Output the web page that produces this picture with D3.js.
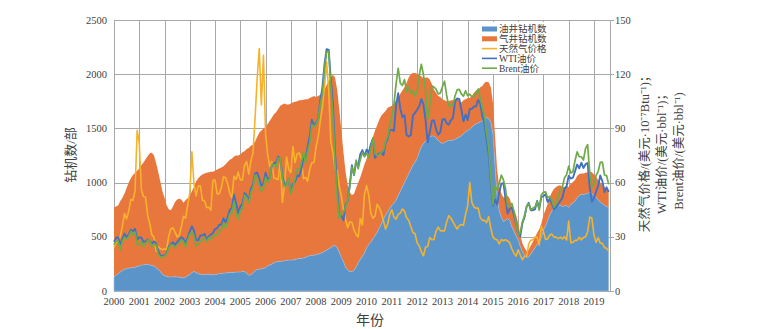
<!DOCTYPE html>
<html>
<head>
<meta charset="utf-8">
<script src="https://cdn.jsdelivr.net/npm/d3@7"></script>
<style>
  body { margin: 0; background: #fff; }
  text { font-family: "Liberation Serif", "Noto Sans CJK SC", serif; fill: #404040; }
</style>
</head>
<body>
<svg id="chart" width="774" height="329"></svg>
<script>
// monthly series, Jan 2000 .. Aug 2019
const startYear = 2000;

const oilRigs = [
  130, 145, 160, 175, 190, 200, 205, 210, 215, 215, 220, 225,   // 2000
  230, 240, 240, 245, 245, 240, 235, 230, 215, 200, 180, 155,   // 2001
  140, 135, 130, 130, 130, 132, 130, 128, 125, 120, 130, 140,   // 2002
  150, 170, 180, 170, 160, 155, 150, 150, 155, 155, 150, 150,   // 2003
  150, 155, 160, 160, 165, 165, 170, 170, 170, 170, 175, 175,   // 2004
  175, 180, 180, 165, 145, 150, 165, 185, 200, 200, 205, 210,   // 2005
  215, 230, 240, 250, 260, 270, 270, 275, 275, 280, 280, 285,   // 2006
  285, 285, 290, 295, 300, 300, 305, 310, 320, 325, 330, 330,   // 2007
  335, 340, 345, 355, 365, 375, 390, 400, 415, 420, 400, 360,   // 2008
  310, 270, 220, 195, 180, 180, 190, 220, 260, 290, 320, 350,   // 2009
  400, 430, 450, 480, 510, 540, 580, 620, 660, 700, 730, 760,   // 2010
  790, 810, 840, 880, 920, 960, 1000, 1040, 1080, 1120, 1160, 1190, // 2011
  1220, 1280, 1330, 1360, 1380, 1400, 1420, 1430, 1430, 1410, 1390, 1370, // 2012
  1360, 1370, 1380, 1390, 1390, 1390, 1400, 1410, 1420, 1430, 1450, 1470, // 2013
  1480, 1490, 1510, 1530, 1540, 1550, 1560, 1570, 1590, 1600, 1590, 1560, // 2014
  1450, 1150, 870, 740, 680, 640, 650, 670, 650, 590, 550, 510, // 2015
  470, 410, 360, 330, 310, 315, 340, 370, 400, 430, 455, 490,   // 2016
  560, 600, 650, 700, 740, 765, 780, 790, 790, 780, 785, 790,   // 2017
  770, 800, 810, 830, 860, 880, 890, 890, 895, 900, 910, 900,   // 2018
  880, 865, 840, 820, 805, 790, 780, 770                        // 2019
];

const gasRigs = [
  640, 635, 630, 655, 670, 700, 745, 790, 825, 855, 870, 885,   // 2000
  900, 920, 945, 970, 1000, 1030, 1040, 1020, 965, 900, 830, 765, // 2001
  720, 655, 625, 615, 650, 688, 715, 722, 720, 695, 710, 715,   // 2002
  730, 750, 780, 840, 880, 905, 925, 935, 935, 940, 950, 950,   // 2003
  960, 965, 970, 980, 985, 1005, 1020, 1040, 1050, 1070, 1075, 1075, // 2004
  1085, 1100, 1110, 1145, 1175, 1190, 1185, 1195, 1220, 1260, 1275, 1290, // 2005
  1295, 1310, 1330, 1350, 1370, 1380, 1410, 1435, 1445, 1450, 1440, 1435, // 2006
  1445, 1455, 1455, 1455, 1460, 1460, 1460, 1460, 1450, 1455, 1460, 1470, // 2007
  1455, 1460, 1465, 1475, 1495, 1525, 1540, 1570, 1580, 1550, 1460, 1320, // 2008
  1170, 1010, 880, 785, 730, 705, 705, 730, 740, 760, 790, 820, // 2009
  820, 860, 920, 940, 970, 990, 1000, 1000, 980, 960, 960, 940, // 2010
  920, 920, 920, 900, 900, 890, 880, 880, 890, 880, 850, 820,   // 2011
  785, 710, 650, 600, 590, 570, 530, 480, 430, 420, 410, 420,   // 2012
  410, 390, 370, 360, 370, 370, 370, 370, 340, 310, 310, 300,   // 2013
  300, 290, 290, 300, 310, 310, 320, 320, 330, 330, 335, 320,   // 2014
  290, 280, 250, 225, 220, 225, 215, 210, 200, 195, 195, 190,   // 2015
  160, 110, 80, 70, 60, 65, 80, 85, 95, 105, 115, 130,          // 2016
  140, 150, 155, 165, 170, 175, 180, 180, 185, 180, 175, 180,   // 2017
  190, 190, 195, 195, 200, 200, 195, 195, 195, 195, 195, 195,   // 2018
  195, 190, 185, 180, 175, 170, 165, 160                        // 2019
];

// 美元/10^7 Btu
const gasPrice = [
  24.2, 26.6, 27.9, 30.4, 35.9, 42.9, 39.9, 44.3, 50.6, 50.2, 55.2, 89.0,
  81.7, 56.1, 52.3, 51.9, 41.9, 37.2, 31.1, 29.7, 21.9, 24.6, 23.4, 23.0,
  23.2, 23.2, 30.3, 34.3, 35.0, 32.6, 29.9, 30.9, 35.5, 41.3, 40.4, 47.4,
  54.3, 77.1, 59.3, 52.6, 58.1, 58.2, 50.3, 49.9, 46.2, 46.3, 44.7, 61.3,
  61.4, 53.7, 53.9, 57.1, 63.3, 62.7, 59.3, 54.1, 51.5, 63.5, 61.7, 65.8,
  61.5, 61.4, 69.6, 71.6, 64.7, 71.8, 76.3, 95.3, 117.5, 134.2, 103.0, 130.5,
  86.9, 75.4, 68.9, 71.6, 62.5, 62.1, 61.7, 71.4, 49.0, 58.5, 74.1, 67.3,
  65.5, 80.0, 71.1, 76.0, 76.4, 73.5, 62.2, 62.9, 60.8, 67.4, 71.0, 71.1,
  79.9, 85.4, 94.1, 101.8, 112.7, 126.9, 110.9, 82.6, 76.7, 67.4, 66.8, 58.2,
  52.4, 45.2, 39.6, 35.0, 38.3, 38.0, 33.8, 31.4, 29.9, 40.1, 36.6, 53.5,
  58.3, 53.2, 42.9, 40.3, 41.4, 48.0, 46.3, 43.2, 38.9, 34.3, 37.1, 42.5,
  44.9, 40.9, 39.7, 42.4, 43.1, 45.4, 44.2, 40.6, 39.0, 35.7, 32.4, 31.7,
  26.7, 25.0, 21.7, 19.5, 24.3, 24.6, 29.5, 28.4, 28.5, 33.2, 35.4, 33.4,
  33.3, 33.3, 38.1, 41.7, 40.4, 38.3, 36.2, 34.3, 36.2, 36.8, 36.4, 42.4,
  47.1, 60.0, 49.0, 46.6, 45.8, 45.9, 40.5, 39.1, 39.2, 37.8, 41.2, 34.8,
  29.9, 28.7, 28.3, 26.1, 28.5, 27.8, 28.4, 27.7, 26.6, 23.4, 20.9, 19.3,
  22.8, 19.9, 17.3, 19.2, 19.2, 25.9, 28.2, 28.2, 29.9, 29.8, 25.5, 35.9,
  33.0, 28.5, 28.8, 31.0, 31.5, 29.8, 29.8, 29.0, 29.8, 28.8, 30.1, 28.2,
  38.7, 26.7, 26.9, 28.0, 28.0, 29.7, 28.3, 29.6, 30.0, 32.8, 40.9, 40.4,
  31.1, 26.9, 29.5, 26.5, 26.4, 24.0, 23.7, 22.2
];

const wtiPrice = [
  27.3, 29.4, 29.8, 25.7, 28.8, 31.8, 29.7, 31.3, 33.9, 33.1, 34.4, 28.4,
  29.6, 29.6, 27.2, 27.5, 28.6, 27.6, 26.4, 27.4, 26.2, 22.2, 19.6, 19.4,
  19.7, 20.7, 24.5, 26.2, 27.0, 25.5, 27.0, 28.4, 29.7, 28.8, 26.4, 29.5,
  33.0, 35.8, 33.5, 28.2, 28.1, 30.7, 30.8, 31.6, 28.3, 30.3, 31.1, 32.1,
  34.3, 34.7, 36.7, 36.8, 40.3, 38.0, 40.8, 44.9, 45.9, 53.3, 48.5, 43.2,
  46.8, 48.2, 54.2, 53.0, 49.8, 56.4, 59.0, 65.0, 65.6, 62.3, 58.3, 59.4,
  65.5, 61.6, 62.7, 69.4, 70.8, 71.0, 74.4, 73.0, 63.8, 58.9, 59.1, 62.0,
  54.5, 59.3, 60.4, 64.0, 63.5, 67.5, 74.1, 72.4, 79.9, 85.8, 94.8, 91.7,
  93.0, 95.4, 105.5, 112.6, 125.4, 133.9, 133.4, 116.7, 104.1, 76.6, 57.3, 41.1,
  41.7, 39.1, 47.9, 49.7, 59.0, 69.6, 64.2, 71.1, 69.4, 75.7, 78.0, 74.5,
  78.3, 76.4, 81.2, 84.3, 73.7, 75.3, 76.3, 76.6, 75.2, 81.9, 84.3, 89.2,
  89.2, 88.6, 102.9, 109.5, 100.9, 96.3, 97.3, 86.3, 85.5, 86.3, 97.2, 98.6,
  100.3, 102.2, 106.2, 103.3, 94.7, 82.3, 87.9, 94.1, 94.5, 89.5, 86.5, 87.9,
  94.8, 95.3, 92.9, 92.0, 94.5, 95.8, 104.7, 106.6, 106.3, 100.5, 93.9, 97.6,
  94.6, 100.8, 100.8, 102.1, 102.2, 105.8, 103.6, 96.5, 93.2, 84.4, 75.8, 59.3,
  47.2, 50.6, 47.8, 54.5, 59.3, 59.8, 50.9, 42.9, 45.5, 46.2, 42.4, 37.2,
  31.7, 30.3, 37.6, 40.8, 46.7, 48.8, 44.7, 44.7, 45.2, 49.8, 45.7, 52.0,
  52.5, 53.5, 49.3, 51.1, 48.5, 45.2, 46.6, 48.0, 49.8, 51.6, 56.6, 57.9,
  63.7, 62.2, 62.7, 66.3, 70.0, 67.9, 71.0, 68.1, 70.2, 70.8, 57.0, 49.5,
  51.4, 55.0, 58.2, 63.9, 60.8, 54.7, 57.4, 54.8
];

const brentPrice = [
  25.5, 27.8, 27.5, 22.8, 27.7, 29.8, 28.7, 30.2, 33.1, 31.0, 32.6, 25.7,
  25.6, 27.5, 24.5, 25.7, 28.3, 27.9, 24.6, 25.7, 25.6, 20.5, 18.8, 18.7,
  19.4, 20.3, 23.7, 25.7, 25.4, 24.1, 25.7, 26.7, 28.4, 27.5, 24.3, 28.3,
  31.2, 32.8, 30.6, 25.0, 25.9, 27.7, 28.4, 29.9, 27.1, 29.6, 28.8, 29.8,
  31.3, 30.9, 33.6, 33.6, 37.6, 35.2, 38.2, 42.7, 43.2, 49.8, 43.1, 39.6,
  44.5, 45.5, 53.1, 51.9, 48.7, 54.4, 57.5, 64.0, 62.9, 58.5, 55.2, 56.9,
  63.0, 60.2, 62.1, 70.3, 69.8, 68.6, 73.7, 73.2, 62.0, 57.8, 58.8, 62.5,
  53.7, 57.6, 62.1, 67.5, 67.2, 71.1, 76.9, 70.8, 77.2, 82.3, 92.4, 90.9,
  92.2, 95.0, 103.6, 109.1, 122.8, 132.3, 132.7, 113.2, 97.2, 71.6, 52.5, 40.0,
  43.4, 43.3, 46.5, 50.2, 57.3, 68.6, 64.4, 72.5, 67.7, 72.8, 76.7, 74.5,
  76.2, 73.8, 78.8, 84.8, 76.0, 74.8, 75.6, 77.0, 77.8, 82.7, 85.3, 91.5,
  96.5, 103.7, 114.6, 123.3, 115.0, 113.8, 117.0, 110.2, 112.8, 109.6, 110.8, 107.9,
  110.7, 119.3, 125.5, 119.8, 110.3, 95.2, 102.6, 113.4, 112.9, 111.7, 109.1, 109.5,
  113.0, 116.1, 108.5, 102.3, 102.6, 102.9, 107.9, 111.3, 111.6, 109.1, 107.8, 110.8,
  108.1, 108.9, 107.5, 107.8, 109.5, 111.8, 106.8, 101.6, 97.1, 87.4, 79.4, 62.3,
  47.8, 58.1, 55.9, 59.5, 64.1, 61.5, 56.6, 46.5, 47.6, 48.4, 44.3, 38.0,
  30.7, 32.2, 38.2, 41.6, 46.7, 48.3, 45.0, 45.8, 46.6, 49.5, 44.7, 53.3,
  54.6, 54.9, 51.6, 52.3, 50.3, 46.4, 48.5, 51.7, 56.2, 57.5, 62.7, 64.4,
  69.1, 65.3, 66.0, 72.1, 77.0, 74.4, 74.3, 72.5, 78.9, 81.0, 64.8, 57.4,
  59.4, 64.0, 66.1, 71.2, 71.3, 64.2, 63.9, 59.0
];

const yearTicks = [2000, 2001, 2002, 2003, 2004, 2005, 2006, 2007, 2008, 2009,
                   2010, 2011, 2012, 2013, 2014, 2015, 2016, 2017, 2018, 2019];
const leftTicks = [0, 500, 1000, 1500, 2000, 2500];
const rightTicks = [0, 30, 60, 90, 120, 150];

const legendItems = [
  { name: '油井钻机数', type: 'area', color: '#5b94c9' },
  { name: '气井钻机数', type: 'area', color: '#e8773d' },
  { name: '天然气价格', type: 'line', color: '#f6b22b' },
  { name: 'WTI油价', type: 'line', color: '#4270c2' },
  { name: 'Brent油价', type: 'line', color: '#6eab48' }
];

const margin = { top: 20, right: 164, bottom: 38, left: 114 };
const W = 774, H = 329;
const svg = d3.select('#chart');

const x = d3.scaleLinear().domain([2000, 2019.635]).range([margin.left, W - margin.right]);
const yL = d3.scaleLinear().domain([0, 2500]).range([H - margin.bottom, margin.top]);
const yR = d3.scaleLinear().domain([0, 150]).range([H - margin.bottom, margin.top]);

const rows = oilRigs.map((v, i) => ({
  t: startYear + i / 12,
  oil: v,
  gas: gasRigs[i],
  gp: gasPrice[i],
  wti: wtiPrice[i],
  brent: brentPrice[i]
}));

// grid
const grid = svg.append('g').attr('stroke', '#a8a8a8').attr('stroke-width', 1);
grid.selectAll('.vg').data(yearTicks).enter().append('line')
  .attr('x1', d => Math.round(x(d)) + 0.5).attr('x2', d => Math.round(x(d)) + 0.5)
  .attr('y1', yL(2500)).attr('y2', yL(0));
grid.selectAll('.hg').data(leftTicks).enter().append('line')
  .attr('x1', x.range()[0]).attr('x2', x.range()[1])
  .attr('y1', d => Math.round(yL(d)) + 0.5).attr('y2', d => Math.round(yL(d)) + 0.5);
grid.append('line')
  .attr('x1', Math.round(x.range()[1]) + 0.5).attr('x2', Math.round(x.range()[1]) + 0.5)
  .attr('y1', yL(2500)).attr('y2', yL(0));
grid.selectAll('.rt').data(rightTicks).enter().append('line')
  .attr('x1', x.range()[1]).attr('x2', x.range()[1] + 4)
  .attr('y1', d => Math.round(yR(d)) + 0.5).attr('y2', d => Math.round(yR(d)) + 0.5);

// stacked areas
const stack = d3.stack().keys(['oil', 'gas'])(rows);
const area = d3.area()
  .x(d => x(d.data.t))
  .y0(d => yL(d[0]))
  .y1(d => yL(d[1]));
svg.append('path').datum(stack[1]).attr('d', area).attr('fill', legendItems[1].color);
svg.append('path').datum(stack[0]).attr('d', area).attr('fill', legendItems[0].color)
  .attr('stroke', '#9fc0e0').attr('stroke-width', 0.6);

// price lines
const lineOf = key => d3.line().x(d => x(d.t)).y(d => yR(d[key]));
[['gp', 2, 1.6], ['wti', 3, 1.9], ['brent', 4, 1.7]].forEach(([key, li, w]) => {
  svg.append('path').datum(rows).attr('d', lineOf(key))
    .attr('fill', 'none').attr('stroke', legendItems[li].color)
    .attr('stroke-width', w).attr('stroke-linejoin', 'round');
});

// axis labels
svg.append('g').selectAll('text').data(leftTicks).enter().append('text')
  .attr('x', 107).attr('y', d => yL(d)).attr('dy', '0.35em')
  .attr('text-anchor', 'end').attr('font-size', 10.5).text(d => d);
svg.append('g').selectAll('text').data(rightTicks).enter().append('text')
  .attr('x', 615).attr('y', d => yR(d)).attr('dy', '0.35em')
  .attr('text-anchor', 'start').attr('font-size', 10.5).text(d => d);
svg.append('g').selectAll('text').data(yearTicks).enter().append('text')
  .attr('x', d => x(d)).attr('y', 301).attr('dy', '0.35em')
  .attr('text-anchor', 'middle').attr('font-size', 10.5).text(d => d);

// titles
svg.append('text').attr('x', 370).attr('y', 320).attr('dy', '0.35em')
  .attr('text-anchor', 'middle').attr('font-size', 14).text('年份');
svg.append('text').attr('transform', 'translate(70,155) rotate(-90)').attr('dy', '0.35em')
  .attr('text-anchor', 'middle').attr('font-size', 13).text('钻机数/部');
const rTitle = ['天然气价格/(美元·10⁻⁷Btu⁻¹)；', 'WTI油价/(美元·bbl⁻¹)；', 'Brent油价/(美元·bbl⁻¹)'];
svg.append('g').selectAll('text').data(rTitle).enter().append('text')
  .attr('transform', (d, i) => `translate(${645 + i * 17},151) rotate(-90)`)
  .attr('dy', '0.35em').attr('text-anchor', 'middle').attr('font-size', 12.5)
  .text(d => d);

// legend
const lg = svg.append('g');
lg.append('rect').attr('x', 474).attr('y', 22).attr('width', 70).attr('height', 52).attr('fill', '#fff');
legendItems.forEach((it, i) => {
  const cy = 29 + i * 9.8;
  if (it.type === 'area') {
    lg.append('rect').attr('x', 482).attr('y', cy - 2.5).attr('width', 15).attr('height', 5).attr('fill', it.color);
  } else {
    lg.append('line').attr('x1', 482).attr('x2', 497).attr('y1', cy).attr('y2', cy)
      .attr('stroke', it.color).attr('stroke-width', 1.6);
  }
  lg.append('text').attr('x', 499).attr('y', cy).attr('dy', '0.35em')
    .attr('font-size', 9.5).text(it.name);
});
</script>
</body>
</html>
